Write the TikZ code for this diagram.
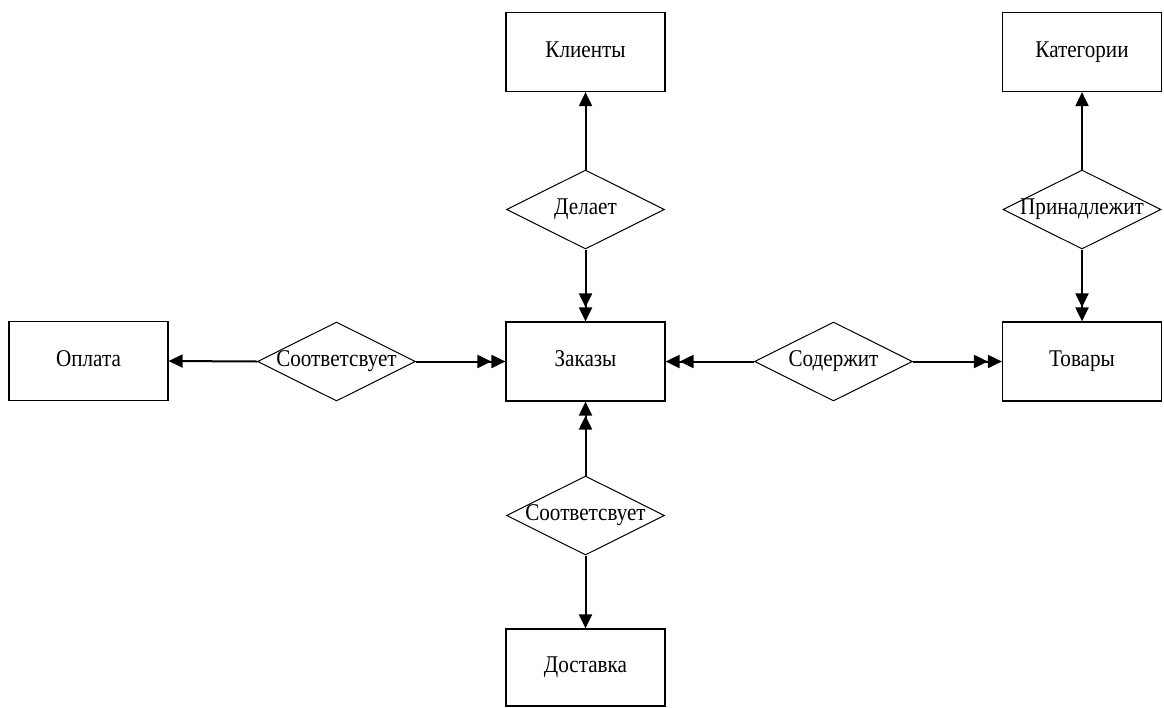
\documentclass[tikz,border=0pt]{standalone}
\usepackage{fontspec}
\setmainfont{Liberation Serif}[FakeStretch=0.88]
\usetikzlibrary{shapes.geometric,arrows.meta}
\begin{document}
\begin{tikzpicture}[x=1pt,y=-1pt,
  lbl/.style={font=\fontsize{24}{28}\selectfont, text height=14pt, text depth=4pt},
  entity/.style={draw, line width=1.2pt, minimum width=159pt, minimum height=79pt, inner sep=0pt, lbl},
  rel/.style={draw, line width=1pt, diamond, minimum width=158pt, minimum height=79pt, inner sep=0pt, lbl},
  conn/.style={line width=2pt},
  one/.style={conn, -{Triangle[length=14pt,width=13pt]}},
  two/.style={conn, -{Triangle[length=14pt,width=13pt]Triangle[length=14pt,width=13pt]}}
]
\useasboundingbox (0,0) rectangle (1164,707);
\node[entity] (klienty) at (585.5,52) {Клиенты};
\node[entity] (kateg) at (1082,52) {Категории};
\node[entity] (oplata) at (88.5,361) {Оплата};
\node[entity] (zakazy) at (585.5,361.5) {Заказы};
\node[entity] (tovary) at (1082,361.5) {Товары};
\node[entity, minimum height=77pt] (dostavka) at (585.5,667.5) {Доставка};
\node[rel] (delaet) at (585.5,209.5) {\makebox[0pt]{Делает}};
\node[rel] (prin) at (1082,209.5) {\makebox[0pt]{Принадлежит}};
\node[rel] (sootv1) at (336.5,361.5) {\makebox[0pt]{Соответсвует}};
\node[rel] (sod) at (833.5,361.5) {\makebox[0pt]{Содержит}};
\node[rel] (sootv2) at (585.5,515.5) {\makebox[0pt]{Соответсвует}};
\draw[one] (delaet.north) -- (klienty.south);
\draw[two] (delaet.south) -- (zakazy.north);
\draw[one] (prin.north) -- (kateg.south);
\draw[two] (prin.south) -- (tovary.north);
\draw[one] (sootv1.west) -- (oplata.east);
\draw[two] (sootv1.east) -- (zakazy.west);
\draw[two] (sod.west) -- (zakazy.east);
\draw[two] (sod.east) -- (tovary.west);
\draw[two] (sootv2.north) -- (zakazy.south);
\draw[one] (sootv2.south) -- (dostavka.north);
\end{tikzpicture}
\end{document}
